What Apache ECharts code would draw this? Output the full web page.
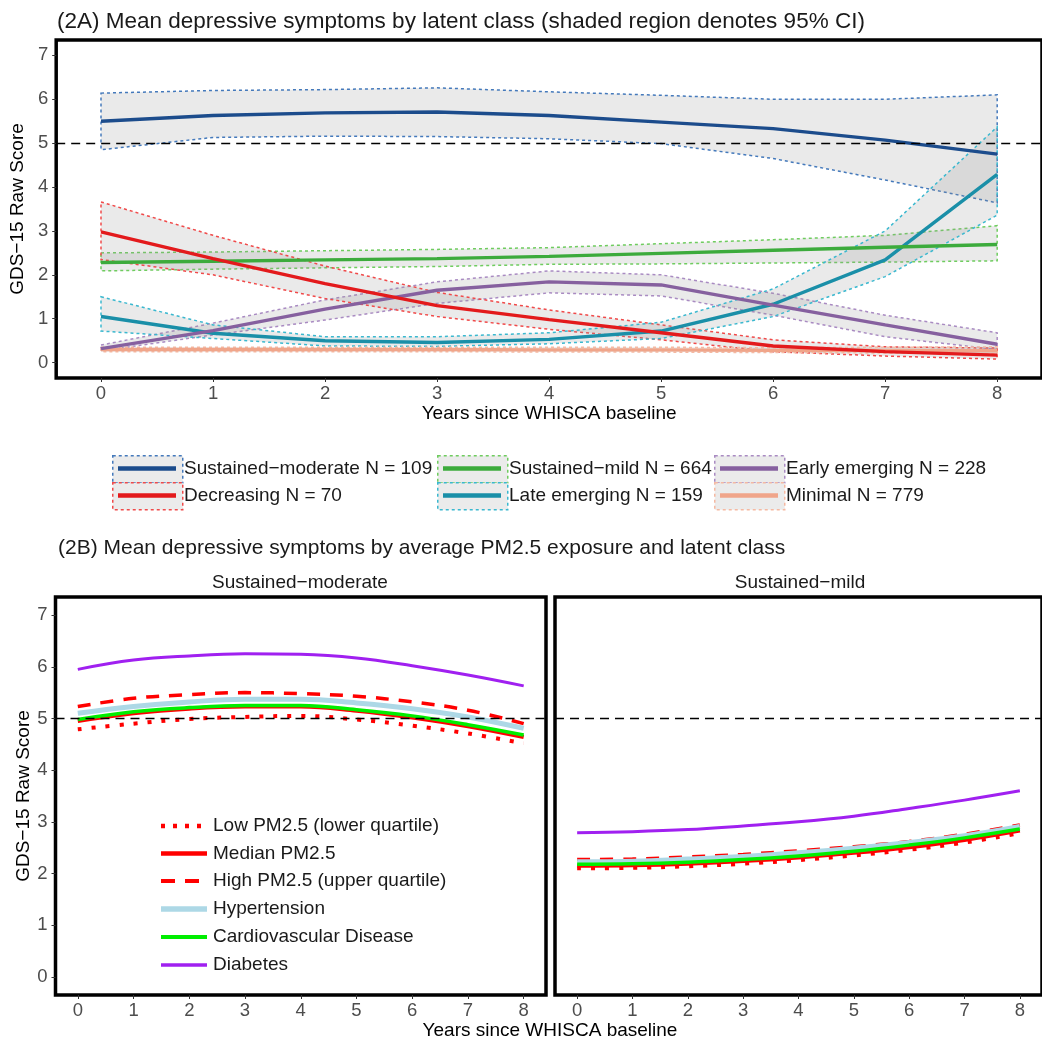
<!DOCTYPE html>
<html>
<head>
<meta charset="utf-8">
<script src="https://cdn.jsdelivr.net/npm/echarts@6/dist/echarts.min.js"></script>
<style>
html, body { margin: 0; padding: 0; background: #fff; }
#main { width: 1042px; height: 1044px; }
</style>
</head>
<body>
<div id="main"></div>
<script>
var years = [0, 1, 2, 3, 4, 5, 6, 7, 8]
var yTicks = [0, 1, 2, 3, 4, 5, 6, 7]

// (2A) latent class means and 95% CI
var modMean = [5.50, 5.63, 5.69, 5.71, 5.63, 5.48, 5.33, 5.07, 4.75]
var modLo = [4.85, 5.13, 5.16, 5.15, 5.10, 4.99, 4.65, 4.16, 3.64]
var modHi = [6.14, 6.20, 6.22, 6.26, 6.17, 6.09, 6.00, 6.00, 6.10]

var mildMean = [2.28, 2.31, 2.34, 2.37, 2.42, 2.49, 2.56, 2.63, 2.69]
var mildLo = [2.09, 2.13, 2.16, 2.19, 2.24, 2.25, 2.27, 2.29, 2.32]
var mildHi = [2.50, 2.52, 2.55, 2.58, 2.62, 2.71, 2.80, 2.90, 3.12]

var earlyMean = [0.32, 0.73, 1.22, 1.65, 1.84, 1.77, 1.31, 0.86, 0.42]
var earlyLo = [0.27, 0.63, 0.97, 1.35, 1.59, 1.52, 1.08, 0.59, 0.30]
var earlyHi = [0.40, 0.90, 1.43, 1.84, 2.09, 2.00, 1.58, 1.08, 0.68]

var decMean = [2.98, 2.37, 1.80, 1.30, 0.98, 0.68, 0.38, 0.25, 0.17]
var decLo = [2.35, 2.00, 1.46, 1.05, 0.76, 0.52, 0.25, 0.15, 0.08]
var decHi = [3.66, 2.90, 2.20, 1.60, 1.20, 0.86, 0.52, 0.36, 0.33]

var lateMean = [1.05, 0.67, 0.50, 0.46, 0.53, 0.72, 1.33, 2.34, 4.29]
var lateLo = [0.72, 0.55, 0.38, 0.37, 0.43, 0.55, 1.05, 1.96, 3.36]
var lateHi = [1.50, 0.86, 0.59, 0.59, 0.68, 0.92, 1.68, 3.00, 5.37]

var minMean = [0.30, 0.30, 0.30, 0.30, 0.29, 0.29, 0.28, 0.28, 0.27]
var minLo = [0.25, 0.25, 0.25, 0.25, 0.24, 0.24, 0.23, 0.22, 0.20]
var minHi = [0.35, 0.35, 0.35, 0.35, 0.35, 0.35, 0.34, 0.35, 0.36]

var classNames = ["Sustained\u2212moderate N = 109", "Sustained\u2212mild N = 664", "Early emerging N = 228",
    "Decreasing N = 70", "Late emerging N = 159", "Minimal N = 779"]

// (2B) PM2.5 / comorbidity curves
var lowMod = [4.79, 4.90, 4.99, 5.03, 5.05, 4.98, 4.86, 4.71, 4.52]
var medMod = [4.95, 5.10, 5.19, 5.23, 5.23, 5.15, 5.02, 4.85, 4.64]
var highMod = [5.23, 5.39, 5.46, 5.50, 5.48, 5.43, 5.32, 5.16, 4.90]
var hypMod = [5.10, 5.23, 5.32, 5.37, 5.37, 5.30, 5.19, 5.03, 4.81]
var cvdMod = [4.98, 5.13, 5.21, 5.25, 5.25, 5.17, 5.05, 4.88, 4.68]
var diabMod = [5.95, 6.13, 6.21, 6.25, 6.24, 6.17, 6.02, 5.84, 5.63]

var lowMild = [2.10, 2.11, 2.14, 2.19, 2.26, 2.35, 2.46, 2.60, 2.78]
var medMild = [2.15, 2.16, 2.19, 2.24, 2.31, 2.40, 2.51, 2.65, 2.83]
var highMild = [2.27, 2.28, 2.32, 2.37, 2.44, 2.52, 2.62, 2.76, 2.94]
var hypMild = [2.23, 2.24, 2.28, 2.33, 2.40, 2.49, 2.60, 2.73, 2.91]
var cvdMild = [2.18, 2.19, 2.22, 2.27, 2.34, 2.43, 2.55, 2.69, 2.86]
var diabMild = [2.79, 2.81, 2.85, 2.92, 3.00, 3.11, 3.26, 3.42, 3.60]

var pmNames = ["Low PM2.5 (lower quartile)", "Median PM2.5", "High PM2.5 (upper quartile)",
    "Hypertension", "Cardiovascular Disease", "Diabetes"]

var FONT = "'Liberation Sans', Arial, sans-serif"

var chartDom = document.getElementById("main")
var myChart = echarts.init(chartDom)
var option

function pairs(arr) {
    return years.map(function (x, i) { return [x, arr[i]] })
}

function makeX(gi, name) {
    return {
        gridIndex: gi,
        type: "value",
        min: -0.4,
        max: 8.4,
        name: name || "",
        nameLocation: "middle",
        nameGap: 23,
        nameTextStyle: { fontSize: 19, color: "#000", fontFamily: FONT },
        axisLine: { show: false, onZero: false },
        axisTick: { show: true, length: 4, customValues: years, lineStyle: { color: "#333", width: 1 } },
        axisLabel: { customValues: years, fontSize: 18.5, color: "#4d4d4d", margin: 6, fontFamily: FONT },
        splitLine: { show: false }
    }
}

function makeY(gi, name, showLabels) {
    return {
        gridIndex: gi,
        type: "value",
        min: -0.35,
        max: 7.35,
        name: name || "",
        nameLocation: "middle",
        nameRotate: 90,
        nameGap: 20,
        nameTextStyle: { fontSize: 19, color: "#000", fontFamily: FONT },
        axisLine: { show: false, onZero: false },
        axisTick: { show: showLabels, length: 4, customValues: yTicks, lineStyle: { color: "#333", width: 1 } },
        axisLabel: { show: showLabels, customValues: yTicks, fontSize: 18.5, color: "#4d4d4d", margin: 8, fontFamily: FONT },
        splitLine: { show: false }
    }
}

var cutLine = {
    silent: true,
    symbol: "none",
    label: { show: false },
    lineStyle: { color: "#000", type: [9, 6], width: 1.3 },
    data: [{ yAxis: 5 }]
}

function ribbon(lo, hi, col) {
    return {
        type: "custom",
        xAxisIndex: 0,
        yAxisIndex: 0,
        silent: true,
        z: 1,
        data: years.map(function (x, i) { return [x, lo[i], hi[i]] }),
        encode: { x: 0, y: [1, 2] },
        renderItem: function (params, api) {
            if (params.dataIndex !== 0) return null
            var pts = []
            for (var i = 0; i < years.length; i++) pts.push(api.coord([years[i], hi[i]]))
            for (var j = years.length - 1; j >= 0; j--) pts.push(api.coord([years[j], lo[j]]))
            return {
                type: "polygon",
                shape: { points: pts },
                style: { fill: "rgba(150,150,150,0.2)", stroke: col, lineWidth: 1.5, lineDash: [3, 3] }
            }
        }
    }
}

function classLine(data, col) {
    return {
        type: "line",
        xAxisIndex: 0,
        yAxisIndex: 0,
        data: pairs(data),
        symbol: "none",
        silent: true,
        z: 3,
        lineStyle: { color: col, width: 3.4 }
    }
}

// class colours: line, band outline
var classCols = [
    ["#1c4c8c", "#4479bb"],
    ["#3cab3c", "#6fcc5f"],
    ["#86609f", "#a98bc2"],
    ["#e31a1c", "#f04a4a"],
    ["#1a8fa8", "#3ab8cf"],
    ["#f0a58a", "#f5b9a2"]
]
var classMeans = [modMean, mildMean, earlyMean, decMean, lateMean, minMean]
var classLo = [modLo, mildLo, earlyLo, decLo, lateLo, minLo]
var classHi = [modHi, mildHi, earlyHi, decHi, lateHi, minHi]

var series = []
for (var k = 0; k < 6; k++) series.push(ribbon(classLo[k], classHi[k], classCols[k][1]))
var drawOrder = [5, 4, 2, 1, 3, 0]
drawOrder.forEach(function (k) { series.push(classLine(classMeans[k], classCols[k][0])) })
series[series.length - 1].markLine = cutLine

// panel B styles
var pmStyles = [
    { color: "#ff0000", width: 4, type: [4, 10] },
    { color: "#ff0000", width: 4, type: "solid" },
    { color: "#ff0000", width: 3.5, type: [13, 10] },
    { color: "#add8e6", width: 5, type: "solid" },
    { color: "#00ee00", width: 3.5, type: "solid" },
    { color: "#a020f0", width: 3, type: "solid" }
]
var modSets = [lowMod, medMod, highMod, hypMod, cvdMod, diabMod]
var mildSets = [lowMild, medMild, highMild, hypMild, cvdMild, diabMild]

function pmLine(gi, k, data) {
    return {
        type: "line",
        name: pmNames[k],
        xAxisIndex: gi,
        yAxisIndex: gi,
        data: pairs(data),
        symbol: "none",
        smooth: 0.4,
        silent: true,
        z: 3,
        lineStyle: pmStyles[k]
    }
}
for (var m = 0; m < 6; m++) series.push(pmLine(1, m, modSets[m]))
series[series.length - 1].markLine = cutLine
for (var n = 0; n < 6; n++) series.push(pmLine(2, n, mildSets[n]))
series[series.length - 1].markLine = cutLine

// legend for (2A): dashed key boxes
var legendGraphics = []
var keyX = [112, 437, 714]
var keyY = [455, 482]
for (var e = 0; e < 6; e++) {
    var cx = keyX[e % 3], cy = keyY[Math.floor(e / 3)]
    legendGraphics.push({
        type: "rect", left: cx, top: cy, silent: true,
        shape: { width: 70, height: 27 },
        style: { fill: "#ebebeb", stroke: classCols[e][1], lineWidth: 1.5, lineDash: [3, 3] }
    })
    legendGraphics.push({
        type: "line", silent: true,
        shape: { x1: cx + 6, y1: cy + 13.5, x2: cx + 64, y2: cy + 13.5 },
        style: { stroke: classCols[e][0], lineWidth: 4.5 }
    })
    legendGraphics.push({
        type: "text", silent: true, x: cx + 72, y: cy + 13.5,
        style: { text: classNames[e], font: "19px " + FONT, fill: "#1a1a1a", verticalAlign: "middle" }
    })
}

// legend for (2B): line keys inside left facet
var pmRows = [826, 853.5, 881, 909, 937, 965]
for (var r = 0; r < 6; r++) {
    var st = pmStyles[r]
    legendGraphics.push({
        type: "line", silent: true,
        shape: { x1: 161, y1: pmRows[r], x2: 207, y2: pmRows[r] },
        style: {
            stroke: st.color, lineWidth: st.width + 0.5,
            lineDash: r === 0 ? [4, 8] : (r === 2 ? [14, 10] : null)
        }
    })
    legendGraphics.push({
        type: "text", silent: true, x: 213, y: pmRows[r],
        style: { text: pmNames[r], font: "19px " + FONT, fill: "#1a1a1a", verticalAlign: "middle" }
    })
}

option = {
    backgroundColor: "#fff",
    animation: false,
    grid: [
        { left: 55, top: 40, width: 991, height: 338, show: true, borderColor: "#000", borderWidth: 3.5, backgroundColor: "transparent" },
        { left: 55.5, top: 597, width: 490.5, height: 398, show: true, borderColor: "#000", borderWidth: 3.5, backgroundColor: "transparent" },
        { left: 555, top: 597, width: 490.5, height: 398, show: true, borderColor: "#000", borderWidth: 3.5, backgroundColor: "transparent" }
    ],
    xAxis: [makeX(0, "Years since WHISCA baseline"), makeX(1), makeX(2)],
    yAxis: [makeY(0, "GDS\u221215 Raw Score", true), makeY(1, "GDS\u221215 Raw Score", true), makeY(2, "", false)],
    graphic: [
        {
            type: "text", x: 57, y: 22, silent: true,
            style: { text: "(2A) Mean depressive symptoms by latent class (shaded region denotes 95% CI)", font: "22.5px " + FONT, fill: "#1a1a1a", verticalAlign: "middle" }
        },
        {
            type: "text", x: 58, y: 548, silent: true,
            style: { text: "(2B) Mean depressive symptoms by average PM2.5 exposure and latent class", font: "21px " + FONT, fill: "#1a1a1a", verticalAlign: "middle" }
        },
        {
            type: "text", x: 300, y: 583, silent: true,
            style: { text: "Sustained\u2212moderate", font: "19px " + FONT, fill: "#1a1a1a", align: "center", verticalAlign: "middle" }
        },
        {
            type: "text", x: 800, y: 583, silent: true,
            style: { text: "Sustained\u2212mild", font: "19px " + FONT, fill: "#1a1a1a", align: "center", verticalAlign: "middle" }
        },
        {
            type: "text", x: 550, y: 1031, silent: true,
            style: { text: "Years since WHISCA baseline", font: "19px " + FONT, fill: "#000", align: "center", verticalAlign: "middle" }
        }
    ].concat(legendGraphics),
    series: series
}

option && myChart.setOption(option)
</script>
</body>
</html>
